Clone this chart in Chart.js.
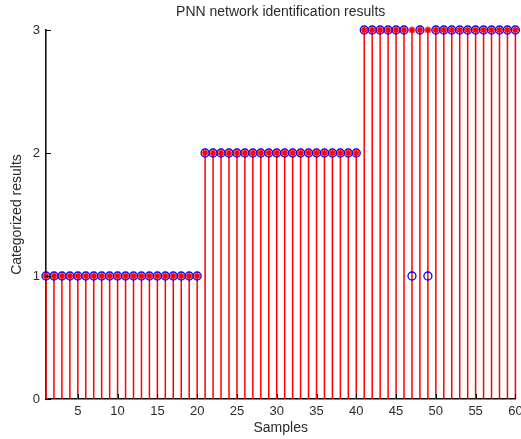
<!DOCTYPE html>
<html>
<head>
<meta charset="utf-8">
<script src="https://cdn.jsdelivr.net/npm/chart.js@4/dist/chart.umd.min.js"></script>
<style>
html,body{margin:0;padding:0;background:#fff;}
#wrap{width:521px;height:439px;position:relative;}
</style>
</head>
<body>
<div id="wrap"><canvas id="c" width="521" height="439"></canvas></div>
<script>
// Data
const samples = Array.from({length: 60}, (_, i) => i + 1);
const actualClass = [
  1,1,1,1,1,1,1,1,1,1,1,1,1,1,1,1,1,1,1,1,
  2,2,2,2,2,2,2,2,2,2,2,2,2,2,2,2,2,2,2,2,
  3,3,3,3,3,3,3,3,3,3,3,3,3,3,3,3,3,3,3,3
];
const predictedClass = [
  1,1,1,1,1,1,1,1,1,1,1,1,1,1,1,1,1,1,1,1,
  2,2,2,2,2,2,2,2,2,2,2,2,2,2,2,2,2,2,2,2,
  3,3,3,3,3,3,1,3,1,3,3,3,3,3,3,3,3,3,3,3
];
const xTickValues = [5,10,15,20,25,30,35,40,45,50,55,60];
const yTickValues = [0,1,2,3];

const stemData = [];
samples.forEach((s, i) => {
  stemData.push({x: s, y: 0}, {x: s, y: actualClass[i]}, {x: s, y: null});
});
const actualPts = samples.map((s, i) => ({x: s, y: actualClass[i]}));
const predPts = samples.map((s, i) => ({x: s, y: predictedClass[i]}));

const txt = '#2a2a2a';
const fontFam = '"Liberation Sans", Arial, sans-serif';

const tickPlugin = {
  id: 'tickPlugin',
  afterDatasetsDraw(chart) {
    const ctx = chart.ctx, xs = chart.scales.x, ys = chart.scales.y;
    const L = xs.getPixelForValue(1);
    const B = ys.getPixelForValue(0);
    ctx.save();
    ctx.strokeStyle = '#000';
    ctx.lineWidth = 1;
    ctx.beginPath();
    yTickValues.forEach(v => {
      const py = Math.round(ys.getPixelForValue(v)) + 0.5;
      ctx.moveTo(L, py); ctx.lineTo(L + 5, py);
    });
    xTickValues.forEach(v => {
      const px = Math.round(xs.getPixelForValue(v)) + 0.5;
      ctx.moveTo(px, B); ctx.lineTo(px, B - 5);
    });
    ctx.stroke();
    ctx.restore();
  }
};

new Chart(document.getElementById('c'), {
  type: 'line',
  data: {
    datasets: [
      {
        label: 'actual markers',
        type: 'scatter',
        data: actualPts,
        pointStyle: 'star',
        pointRadius: 3.5,
        borderColor: '#ff0000',
        backgroundColor: '#ff0000',
        pointBorderWidth: 1.6,
        showLine: false,
        clip: false,
        order: 0
      },
      {
        label: 'predicted',
        type: 'scatter',
        data: predPts,
        pointStyle: 'circle',
        pointRadius: 4,
        borderColor: '#0000ff',
        backgroundColor: 'rgba(0,0,0,0)',
        pointBorderWidth: 1.3,
        showLine: false,
        clip: false,
        order: 1
      },
      {
        label: 'stems',
        data: stemData,
        borderColor: '#ff0000',
        borderWidth: 1.5,
        pointRadius: 0,
        spanGaps: false,
        tension: 0,
        clip: false,
        order: 2
      }
    ]
  },
  options: {
    responsive: false,
    animation: false,
    events: [],
    layout: {padding: {left: 0, right: 5, top: 0, bottom: 0}},
    plugins: {
      legend: {display: false},
      tooltip: {enabled: false},
      title: {
        display: true,
        fullSize: false,
        text: 'PNN network identification results',
        color: txt,
        font: {family: fontFam, size: 14, weight: 'normal', lineHeight: 1.2},
        padding: {top: 4, bottom: 9.2}
      }
    },
    scales: {
      x: {
        type: 'linear',
        min: 1,
        max: 60,
        z: 1,
        grid: {display: false, drawTicks: false},
        border: {display: true, color: '#111', width: 1.6},
        afterBuildTicks: s => { s.ticks = xTickValues.map(v => ({value: v})); },
        afterFit: s => { s.height = 40; s.paddingRight = 0; s.paddingLeft = 0; },
        ticks: {color: txt, font: {family: fontFam, size: 13}, padding: 5, maxRotation: 0, autoSkip: false},
        title: {display: true, text: 'Samples', color: txt, font: {family: fontFam, size: 14, lineHeight: 1.2}, padding: {top: 0, bottom: 2.6}}
      },
      y: {
        type: 'linear',
        min: 0,
        max: 3,
        z: 1,
        grid: {display: false, drawTicks: false},
        border: {display: true, color: '#111', width: 1.6},
        afterBuildTicks: s => { s.ticks = yTickValues.map(v => ({value: v})); },
        afterFit: s => { s.width = 46; },
        ticks: {color: txt, font: {family: fontFam, size: 13}, padding: 6},
        title: {display: true, text: 'Categorized results', color: txt, font: {family: fontFam, size: 14, lineHeight: 1.2}, padding: {top: 9, bottom: 0}}
      }
    }
  },
  plugins: [tickPlugin]
});
</script>
</body>
</html>
